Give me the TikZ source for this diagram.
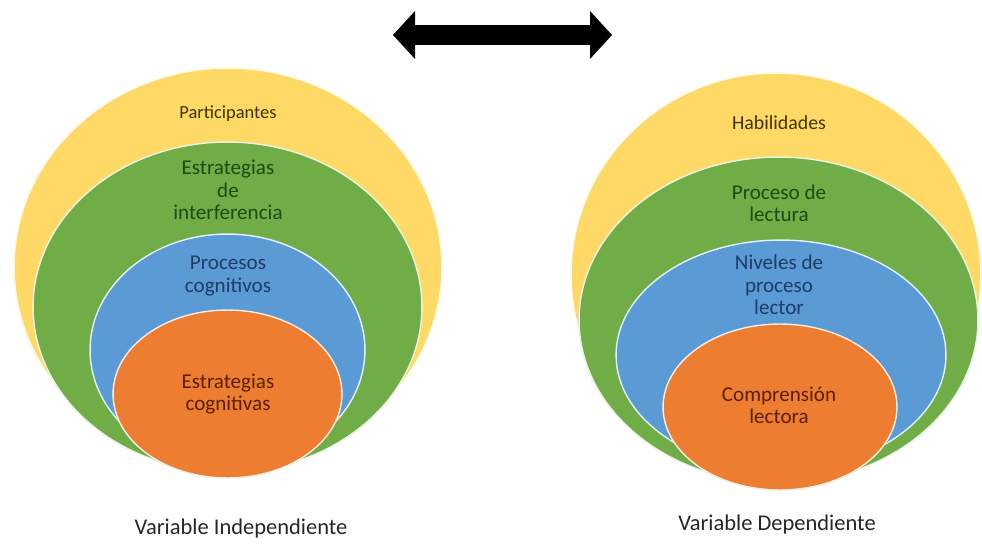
\documentclass[tikz,border=0pt]{standalone}
\usepackage{fontspec}
\setmainfont{Carlito}
\usetikzlibrary{arrows.meta, positioning, shapes.geometric}
\definecolor{ofamarillo}{HTML}{FFD966}
\definecolor{ofverde}{HTML}{70AD47}
\definecolor{ofazul}{HTML}{5B9BD5}
\definecolor{ofnaranja}{HTML}{ED7D31}
\definecolor{txamarillo}{HTML}{3F3300}
\definecolor{txverde}{HTML}{1E4A12}
\definecolor{txazul}{HTML}{1F3C66}
\definecolor{txnaranja}{HTML}{5A1E00}
\tikzset{
  anillo/.style n args={3}{ellipse, inner sep=0pt, draw=white!85!#1, line width=0.8pt,
    fill=#1, minimum width=#2*0.04cm, minimum height=#3*0.04cm},
  etiq/.style={font=\fontsize{12}{12.7}\selectfont, align=center, inner sep=1pt},
  pie/.style={font=\fontsize{12.8}{14}\selectfont, text=black!85, inner sep=1pt},
}

\begin{document}
\begin{tikzpicture}[x=0.02cm, y=-0.02cm]
\useasboundingbox (0,0) rectangle (982,544);

% Variable independiente
\node[anillo={ofamarillo}{214}{199}]   (izqA) at (228,267) {};
\node[anillo={ofverde}{194.5}{165}]    (izqB) at (227.5,307) {};
\node[anillo={ofazul}{137.5}{116}]     (izqC) at (227.5,350) {};
\node[anillo={ofnaranja}{114.5}{84}]   (izqD) at (227.5,394) {};

\node[etiq, font=\fontsize{10.5}{12}\selectfont, text=txamarillo] (tPart) at (228,114) {Participantes};
\node[etiq, text=txverde]   (tInterf) at (228,190) {Estrategias\\de\\interferencia};
\node[etiq, text=txazul]    (tProc)   at (228,276) {Procesos\\cognitivos};
\node[etiq, text=txnaranja] (tEstrat) at (228,394) {Estrategias\\cognitivas};

% Variable dependiente
\node[anillo={ofamarillo}{205}{202}]   (derA) at (776,275) {};
\node[anillo={ofverde}{199.5}{163}]    (derB) at (778.5,320) {};
\node[anillo={ofazul}{165}{115}]       (derC) at (781,355) {};
\node[anillo={ofnaranja}{117}{83}]     (derD) at (780,407) {};

\node[etiq, font=\fontsize{11.3}{13}\selectfont, text=txamarillo] (tHab) at (779,123) {Habilidades};
\node[etiq, text=txverde]   (tLect)  at (779,203) {Proceso de\\lectura};
\node[etiq, text=txazul]    (tNiv)   at (779,285) {Niveles de\\proceso\\lector};
\node[etiq, text=txnaranja] (tCompr) at (779,405) {Comprensión\\lectora};

% Pies
\node[pie] (pieIzq) at (241,528) {Variable Independiente};
\node[pie] (pieDer) at (777,524) {Variable Dependiente};

% Flecha doble
\coordinate (flechaIzq) at (393,35);
\coordinate (flechaDer) at (612,35);
\draw[line width=0.4cm,
  {Triangle[length=0.44cm, width=0.96cm, line width=0pt]}-{Triangle[length=0.44cm, width=0.96cm, line width=0pt]}]
  (flechaIzq) -- (flechaDer);

\end{tikzpicture}
\end{document}
